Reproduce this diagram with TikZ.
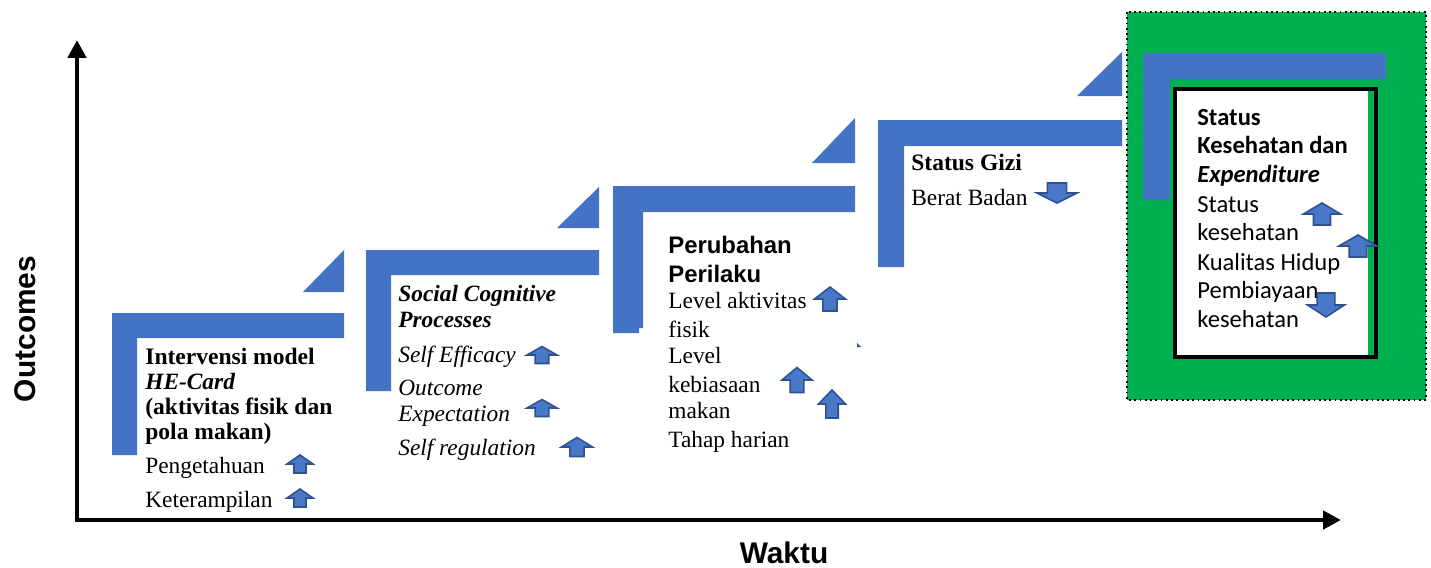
\documentclass[tikz,border=0pt]{standalone}
\usepackage{fontspec}
\setmainfont{Liberation Serif}
\newfontfamily\arialfont{Liberation Sans}
\newfontfamily\calfont{Carlito}
\usetikzlibrary{arrows.meta}
\definecolor{stepblue}{HTML}{4472C4}
\definecolor{boxgreen}{HTML}{00B050}
\definecolor{arrowedge}{HTML}{2F528F}
\definecolor{arrowfill}{HTML}{4A78C8}

\tikzset{
  bar/.style={fill=stepblue},
  axis/.style={line width=2.6pt, {Triangle[length=0.36cm,width=0.36cm]}-{Triangle[length=0.36cm,width=0.36cm]}},
  axlabel/.style={font=\arialfont\bfseries\fontsize{17}{20}\selectfont, inner sep=0pt},
  ser/.style={anchor=base west, inner sep=0pt, font=\fontsize{13.3}{15}\selectfont},
  serb/.style={ser, font=\fontsize{13.4}{15}\selectfont\bfseries},
  seri/.style={ser, font=\fontsize{13.3}{15}\selectfont\itshape},
  serbi/.style={ser, font=\fontsize{13.3}{15}\selectfont\bfseries\itshape},
  sanb/.style={ser, font=\arialfont\bfseries\fontsize{13.6}{16}\selectfont},
  cal/.style={ser, font=\calfont\fontsize{14}{17}\selectfont},
  calb/.style={ser, font=\calfont\bfseries\fontsize{14}{17}\selectfont},
  calbi/.style={ser, font=\calfont\bfseries\itshape\fontsize{14}{17}\selectfont},
  uparrow/.pic={
    \path[draw=arrowedge, fill=arrowfill, line width=0.9pt, line join=miter]
      (0,-0.5) -- (0.5,0) -- (0.23,0) -- (0.23,0.5) -- (-0.23,0.5)
      -- (-0.23,0) -- (-0.5,0) -- cycle;
  },
  downarrow/.pic={
    \path[draw=arrowedge, fill=arrowfill, line width=0.9pt, line join=miter]
      (0,0.5) -- (0.5,0) -- (0.24,0) -- (0.24,-0.5) -- (-0.24,-0.5)
      -- (-0.24,0) -- (-0.5,0) -- cycle;
  },
}

\begin{document}
\begin{tikzpicture}[x=0.02cm, y=-0.02cm]
\useasboundingbox (0,0) rectangle (1431,568);

% final stage: green panel behind the last step
\fill[boxgreen] (1127,12) rectangle (1426,400);
\draw[black, dotted, line width=1pt] (1127,12) rectangle (1426,400);

% stair steps (L-shaped bars with a corner wedge above)
\fill[bar] (112,313) -- (344,313) -- (344,338) -- (137,338) -- (137,455) -- (112,455) -- cycle;
\fill[bar] (303,292) -- (344,250) -- (344,292) -- cycle;

\fill[bar] (366,250) -- (599,250) -- (599,275) -- (391,275) -- (391,391) -- (366,391) -- cycle;
\fill[bar] (557,228) -- (599,187) -- (599,228) -- cycle;

\fill[bar] (613,186) -- (855,186) -- (855,212) -- (643,212) -- (643,328) -- (639,328) -- (639,333) -- (613,333) -- cycle;
\fill[bar] (812,163) -- (855,118) -- (855,163) -- cycle;

\fill[bar] (878,120) -- (1122,120) -- (1122,146) -- (904,146) -- (904,267) -- (878,267) -- cycle;
\fill[bar] (1077,96) -- (1122,52) -- (1122,96) -- cycle;

\fill[bar] (1143,53) -- (1386,53) -- (1386,79) -- (1170,79) -- (1170,200) -- (1143,200) -- cycle;

% framed white card of the last stage
\fill[white] (1175,89) rectangle (1368,357);
\draw[black, line width=2.3pt] (1175,89) rectangle (1376,357);

\fill[arrowedge] (857,343) -- (861,347) -- (857,347) -- cycle;

% axes
\coordinate (ytop) at (77,40);
\coordinate (origin) at (77,520);
\coordinate (xend) at (1341,520);
\draw[axis] (ytop) -- (origin) -- (xend);
\node[axlabel, rotate=90] (ylabel) at (25,329) {Outcomes};
\node[axlabel] (xlabel) at (784,553) {Waktu};

% stage 1
\node[serb]  (s1a) at (145,364) {Intervensi model};
\node[serbi] (s1b) at (145,389) {HE-Card};
\node[serb]  (s1c) at (145,414) {(aktivitas fisik dan};
\node[serb]  (s1d) at (145,439) {pola makan)};
\node[ser]   (s1e) at (145,473) {Pengetahuan};
\node[ser]   (s1f) at (145,507) {Keterampilan};
\pic[xscale=26, yscale=18] at (300,464) {uparrow};
\pic[xscale=26, yscale=18] at (300,498) {uparrow};

% stage 2
\node[serbi] (s2a) at (398,301) {Social Cognitive};
\node[serbi] (s2b) at (398,327) {Processes};
\node[seri]  (s2c) at (398,362) {Self Efficacy};
\node[seri]  (s2d) at (398,395) {Outcome};
\node[seri]  (s2e) at (398,421) {Expectation};
\node[seri]  (s2f) at (398,455) {Self regulation};
\pic[xscale=30, yscale=17] at (542,355) {uparrow};
\pic[xscale=30, yscale=17] at (542,408) {uparrow};
\pic[xscale=31, yscale=19] at (577,447) {uparrow};

% stage 3
\node[sanb] (s3a) at (668,253) {Perubahan};
\node[sanb] (s3b) at (668,282) {Perilaku};
\node[ser]  (s3c) at (668,308) {Level aktivitas};
\node[ser]  (s3d) at (668,337) {fisik};
\node[ser]  (s3e) at (668,363) {Level};
\node[ser]  (s3f) at (668,392) {kebiasaan};
\node[ser]  (s3g) at (668,418) {makan};
\node[ser]  (s3h) at (668,447) {Tahap harian};
\pic[xscale=31, yscale=24] at (830,299) {uparrow};
\pic[xscale=30, yscale=25] at (797,380) {uparrow};
\pic[xscale=27, yscale=28] at (832,404) {uparrow};

% stage 4
\node[serb] (s4a) at (911,170) {Status Gizi};
\node[ser]  (s4b) at (911,205) {Berat Badan};
\pic[xscale=40, yscale=20] at (1057,193) {downarrow};

% stage 5
\node[calb]  (s5a) at (1197,125) {Status};
\node[calb]  (s5b) at (1197,153) {Kesehatan dan};
\node[calbi] (s5c) at (1197,182) {Expenditure};
\node[cal]   (s5d) at (1197,212) {Status};
\node[cal]   (s5e) at (1197,240) {kesehatan};
\node[cal]   (s5f) at (1197,270) {Kualitas Hidup};
\node[cal]   (s5g) at (1197,298) {Pembiayaan};
\node[cal]   (s5h) at (1197,327) {kesehatan};
\pic[xscale=37, yscale=22] at (1322,214) {uparrow};
\pic[xscale=38, yscale=22] at (1358,246) {uparrow};
\pic[xscale=37, yscale=24] at (1326,305) {downarrow};
\end{tikzpicture}
\end{document}
